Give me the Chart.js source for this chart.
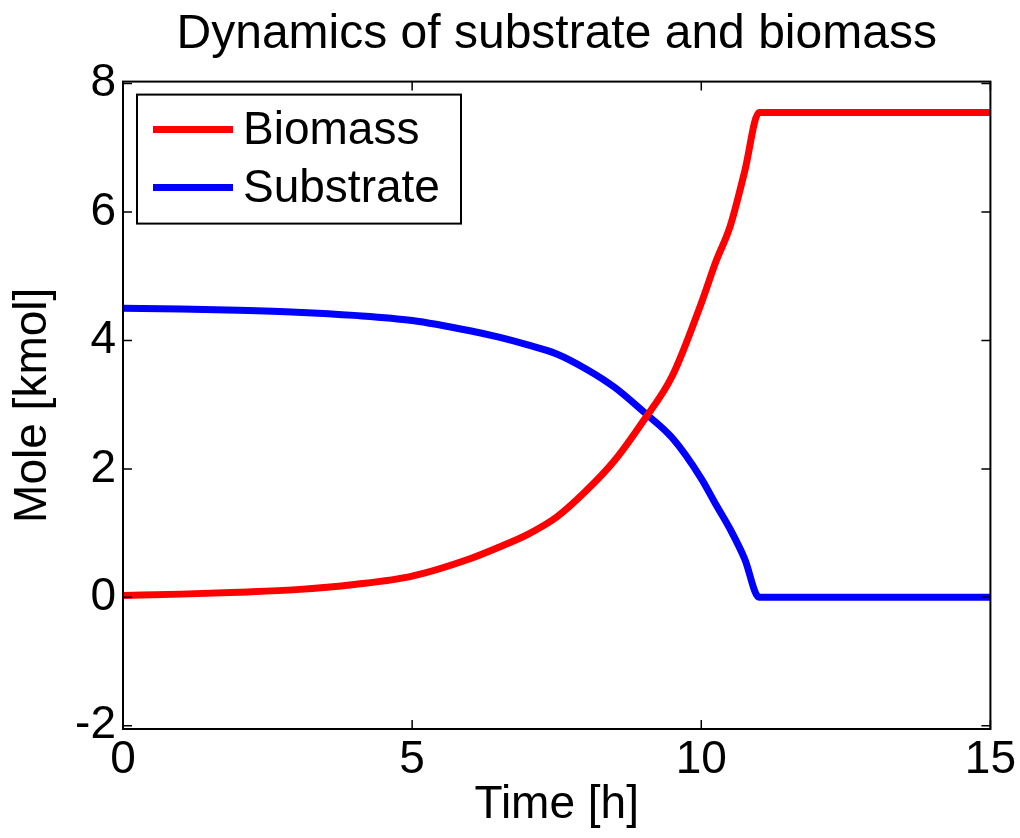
<!DOCTYPE html>
<html>
<head>
<meta charset="utf-8">
<script src="https://cdn.jsdelivr.net/npm/chart.js@4"></script>
<style>
  html, body { margin: 0; padding: 0; background: #fff; }
  #wrap { width: 1020px; height: 838px; }
</style>
</head>
<body>
<div id="wrap"><canvas id="myChart" width="1020" height="838"></canvas></div>
<script>
// time points [h]
const TIME = [0, 1, 2, 3, 4, 5, 6, 6.5, 7, 7.5, 8, 8.5, 9, 9.5, 10, 10.25, 10.5, 10.75, 11, 15];
// mole [kmol]
const BIOMASS = [0.03, 0.05, 0.08, 0.12, 0.2, 0.33, 0.6, 0.78, 0.98, 1.25, 1.65, 2.13, 2.75, 3.45, 4.58, 5.22, 5.78, 6.63, 7.55, 7.55];
const SUBSTRATE = [4.5, 4.49, 4.47, 4.44, 4.39, 4.31, 4.15, 4.05, 3.93, 3.79, 3.56, 3.27, 2.89, 2.48, 1.85, 1.45, 1.06, 0.6, 0, 0];

const X_TICKS = [0, 5, 10, 15];
const Y_TICKS = [-2, 0, 2, 4, 6, 8];

const FONT = "'Liberation Sans', Arial, sans-serif";

function toPoints(xs, ys) {
  return xs.map((x, i) => ({ x, y: ys[i] }));
}

// matlab style box with inward ticks on all four sides
const axesBox = {
  id: 'axesBox',
  afterDatasetsDraw(chart) {
    const { ctx, chartArea: a, scales: { x, y } } = chart;
    const len = 9;
    ctx.save();
    ctx.strokeStyle = '#000';
    ctx.lineWidth = 1.5;
    ctx.beginPath();
    x.ticks.forEach((t) => {
      const px = x.getPixelForValue(t.value);
      ctx.moveTo(px, a.bottom); ctx.lineTo(px, a.bottom - len);
      ctx.moveTo(px, a.top); ctx.lineTo(px, a.top + len);
    });
    y.ticks.forEach((t) => {
      const py = y.getPixelForValue(t.value);
      ctx.moveTo(a.left, py); ctx.lineTo(a.left + len, py);
      ctx.moveTo(a.right, py); ctx.lineTo(a.right - len, py);
    });
    ctx.stroke();
    ctx.lineWidth = 2;
    ctx.strokeRect(a.left, a.top, a.right - a.left, a.bottom - a.top);
    ctx.restore();
  },
};

// boxed legend inside the axes, top left
const boxLegend = {
  id: 'boxLegend',
  afterDraw(chart) {
    const { ctx, chartArea: a } = chart;
    const left = a.left + 14;
    const top = a.top + 13;
    const w = 324;
    const h = 129;
    ctx.save();
    ctx.fillStyle = '#fff';
    ctx.fillRect(left, top, w, h);
    ctx.strokeStyle = '#000';
    ctx.lineWidth = 2;
    ctx.strokeRect(left, top, w, h);
    ctx.font = `46px ${FONT}`;
    ctx.textBaseline = 'middle';
    chart.data.datasets.forEach((ds, i) => {
      const cy = top + 35 + i * 58;
      ctx.strokeStyle = ds.borderColor;
      ctx.lineWidth = 7;
      ctx.beginPath();
      ctx.moveTo(left + 16, cy);
      ctx.lineTo(left + 96, cy);
      ctx.stroke();
      ctx.fillStyle = '#000';
      ctx.fillText(ds.label, left + 106, cy + 2);
    });
    ctx.restore();
  },
};

function draw() {
  const ctx = document.getElementById('myChart');
  // eslint-disable-next-line no-undef, no-new
  new Chart(ctx, {
    type: 'line',
    data: {
      datasets: [{
        label: 'Biomass',
        data: toPoints(TIME, BIOMASS),
        borderColor: '#ff0000',
        borderWidth: 7,
        pointRadius: 0,
        cubicInterpolationMode: 'monotone',
      }, {
        label: 'Substrate',
        data: toPoints(TIME, SUBSTRATE),
        borderColor: '#0000ff',
        borderWidth: 7,
        pointRadius: 0,
        cubicInterpolationMode: 'monotone',
      }],
    },
    plugins: [axesBox, boxLegend],
    options: {
      responsive: false,
      animation: false,
      layout: { padding: { left: 0, right: 17, top: 0, bottom: 0 } },
      plugins: {
        legend: { display: false },
        tooltip: { enabled: false },
        title: {
          display: true,
          text: 'Dynamics of substrate and biomass',
          fullSize: false,
          color: '#000',
          font: { family: FONT, size: 48, weight: 'normal' },
          padding: { top: 6, bottom: 18 },
        },
      },
      scales: {
        x: {
          type: 'linear',
          min: 0,
          max: 15,
          afterBuildTicks: (scale) => { scale.ticks = X_TICKS.map((v) => ({ value: v })); },
          afterFit: (scale) => { scale.height = 109; },
          grid: { display: false, drawTicks: false },
          border: { display: false },
          ticks: {
            color: '#000',
            padding: 4,
            maxRotation: 0,
            font: { family: FONT, size: 46 },
          },
          title: {
            display: true,
            text: 'Time [h]',
            color: '#000',
            font: { family: FONT, size: 46 },
            padding: { top: 0, bottom: 5 },
          },
        },
        y: {
          type: 'linear',
          min: -2.05,
          max: 8.03,
          afterBuildTicks: (scale) => { scale.ticks = Y_TICKS.map((v) => ({ value: v })); },
          afterFit: (scale) => { scale.width = 123; },
          grid: { display: false, drawTicks: false },
          border: { display: false },
          ticks: {
            color: '#000',
            padding: 7,
            font: { family: FONT, size: 46 },
          },
          title: {
            display: true,
            text: 'Mole [kmol]',
            color: '#000',
            font: { family: FONT, size: 46 },
            padding: { top: 6, bottom: 0 },
          },
        },
      },
    },
  });
}

draw();
</script>
</body>
</html>
